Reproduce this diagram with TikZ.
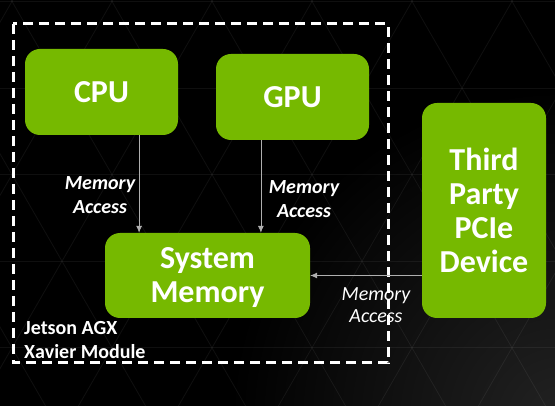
\documentclass[tikz,border=0pt]{standalone}
\usepackage{fontspec}
\setmainfont{Carlito}
\usetikzlibrary{arrows.meta}
\definecolor{nvgreen}{RGB}{118,185,0}
\definecolor{accgray}{RGB}{175,175,175}
\definecolor{bglight}{RGB}{34,34,34}
\tikzset{
    unit/.style={fill=nvgreen, rounded corners=15pt, inner sep=0pt, align=center,
        text=white, font=\fontsize{32}{34}\selectfont\bfseries},
    acc/.style={draw=accgray, line width=0.8pt, -{Latex[length=7pt,width=6pt]}},
    acclbl/.style={text=white, align=center, inner sep=0pt,
        font=\fontsize{20}{24}\selectfont\bfseries\itshape},
    gridln/.style={draw=white, opacity=0.06, line width=0.8pt}
}
\begin{document}
\begin{tikzpicture}[x=1pt,y=-1pt]
	\useasboundingbox (0,0) rectangle (555,406);
	\fill[black] (0,0) rectangle (555,406);
	\begin{scope}
		\clip (0,0) rectangle (555,406);
		\shade[inner color=bglight, outer color=black] (560,420) circle (330);
		\foreach \k in {-10,...,8} {
			\draw[gridln] ({462+100*\k-250},-345) -- ({462+100*\k+250},521);
			\draw[gridln] ({462+100*\k+250},-345) -- ({462+100*\k-250},521);
		}
		\foreach \k in {-1,...,4}
			\draw[gridln] (0,{88+86.6*\k}) -- (555,{88+86.6*\k});
	\end{scope}

	\draw[white, line width=3pt, dash pattern=on 10pt off 6pt] (13,24) rectangle (388,363);

	\node[unit, minimum width=153pt, minimum height=86pt] (cpu) at (101.5,92) {CPU};
	\node[unit, minimum width=153pt, minimum height=86pt] (gpu) at (292.5,97) {GPU};
	\node[unit, minimum width=205pt, minimum height=85pt, text depth=0pt] (mem) at (207.5,275.5) {System\\Memory};
	\node[unit, minimum width=124pt, minimum height=215pt] (dev) at (484,210.5) {Third\\Party\\PCIe\\Device};

	\path (cpu.south west) -- (cpu.south east) coordinate[pos=0.745] (cpuout);
	\path (gpu.south west) -- (gpu.south east) coordinate[pos=0.294] (gpuout);
	\draw[acc] (cpuout) -- (cpuout |- mem.north);
	\draw[acc] (gpuout) -- (gpuout |- mem.north);
	\draw[acc] (mem.east -| dev.west) -- (mem.east);

	\node[acclbl] (cpulbl) at (100,195) {Memory\\Access};
	\node[acclbl] (gpulbl) at (304,199) {Memory\\Access};
	\node[acclbl, font=\fontsize{20}{22}\selectfont\itshape] (devlbl) at (376,305) {Memory\\Access};
	\node[text=white, align=left, anchor=west, inner sep=0pt,
		font=\fontsize{20}{24}\selectfont\bfseries] (module) at (24,340) {Jetson AGX\\Xavier Module};
\end{tikzpicture}
\end{document}
